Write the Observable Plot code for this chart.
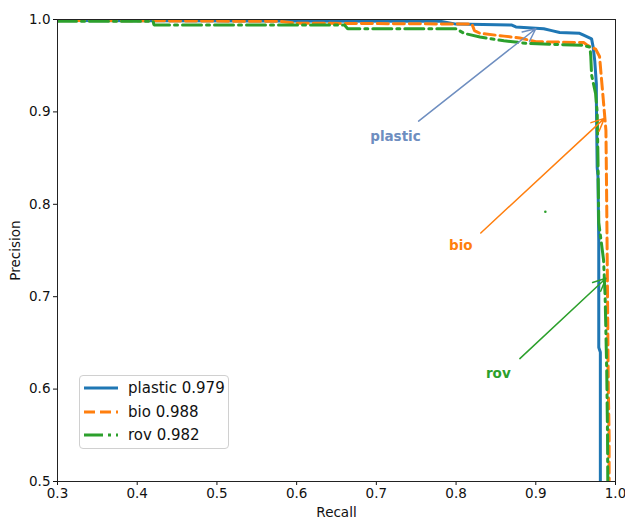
<!DOCTYPE html>
<html><head><meta charset="utf-8">
<script src="https://cdn.jsdelivr.net/npm/d3@7"></script>
<script src="https://cdn.jsdelivr.net/npm/@observablehq/plot@0.6"></script>
<style>
body{margin:0;background:#fff;font-family:"DejaVu Sans",sans-serif}
#wrap{position:relative;width:625px;height:520px}
#legend{position:absolute;left:79px;top:375px;width:148px;height:72px;border:1px solid #d0d0d0;border-radius:4px;background:rgba(255,255,255,0.85)}
.row{position:absolute;left:4px;height:20px;display:flex;align-items:center;font-size:15px;color:#111;white-space:nowrap}
.row svg{margin-right:10px}
</style></head><body><div id="wrap"></div><script>
// ---- data ----
const seriesNames = ["plastic", "bio", "rov"];
const seriesAP = ["0.979", "0.988", "0.982"];
const seriesColors = ["#1f77b4", "#ff7f0e", "#2ca02c"];
const seriesDash = [null, "11,5", "19,5,3,5"];

const plasticRecall    = [0.30, 0.78, 0.80, 0.87, 0.875, 0.91, 0.92, 0.93, 0.955, 0.96, 0.97, 0.972, 0.974, 0.976, 0.976, 0.977, 0.978, 0.979, 0.979, 0.981, 0.981];
const plasticPrecision = [0.999, 0.998, 0.995, 0.994, 0.992, 0.990, 0.988, 0.986, 0.985, 0.983, 0.979, 0.970, 0.955, 0.930, 0.912, 0.840, 0.830, 0.760, 0.645, 0.640, 0.40];

const bioRecall    = [0.30, 0.58, 0.60, 0.82, 0.823, 0.83, 0.86, 0.88, 0.90, 0.96, 0.965, 0.975, 0.980, 0.982, 0.984, 0.986, 0.988, 0.989, 0.990, 0.991, 0.992, 0.992];
const bioPrecision = [0.999, 0.998, 0.996, 0.995, 0.988, 0.985, 0.982, 0.980, 0.976, 0.975, 0.972, 0.968, 0.960, 0.940, 0.920, 0.900, 0.880, 0.800, 0.700, 0.600, 0.550, 0.40];

const rovRecall    = [0.30, 0.42, 0.421, 0.66, 0.664, 0.80, 0.81, 0.83, 0.86, 0.89, 0.96, 0.968, 0.969, 0.970, 0.975, 0.977, 0.978, 0.979, 0.982, 0.985, 0.987, 0.989, 0.990, 0.991];
const rovPrecision = [0.998, 0.998, 0.994, 0.994, 0.990, 0.990, 0.985, 0.981, 0.977, 0.974, 0.972, 0.970, 0.960, 0.940, 0.920, 0.900, 0.850, 0.780, 0.760, 0.740, 0.700, 0.620, 0.550, 0.40];

const annoLabels = ["plastic", "bio", "rov"];
const annoColors = ["#6e8ec0", "#ff7f0e", "#2ca02c"];
const annoTextRecall = [0.724, 0.806, 0.853];
const annoTextPrecision = [0.873, 0.755, 0.617];
const annoTailRecall = [0.753, 0.831, 0.880];
const annoTailPrecision = [0.890, 0.769, 0.633];
const annoTipRecall = [0.900, 0.986, 0.988];
const annoTipPrecision = [0.990, 0.893, 0.720];

const strayDotRecall = [0.912];
const strayDotPrecision = [0.792];

const xTicks = [0.3, 0.4, 0.5, 0.6, 0.7, 0.8, 0.9, 1.0];
const yTicks = [0.5, 0.6, 0.7, 0.8, 0.9, 1.0];

// ---- build tables ----
const curves = [
  [plasticRecall, plasticPrecision],
  [bioRecall, bioPrecision],
  [rovRecall, rovPrecision]
];
const rows = curves.flatMap(([r, p], i) => r.map((v, j) => ({series: seriesNames[i], recall: v, precision: p[j]})));
const annos = annoLabels.map((l, i) => ({
  label: l, color: annoColors[i],
  tx: annoTextRecall[i], ty: annoTextPrecision[i],
  x1: annoTailRecall[i], y1: annoTailPrecision[i],
  x2: annoTipRecall[i], y2: annoTipPrecision[i]
}));
const stray = strayDotRecall.map((v, i) => ({x: v, y: strayDotPrecision[i]}));
const fmt = d => d.toFixed(1);

const chart = Plot.plot({
  width: 625, height: 520,
  marginLeft: 57, marginRight: 10, marginTop: 19, marginBottom: 39,
  style: {fontFamily: "DejaVu Sans, sans-serif", fontSize: "13.5px", color: "#111", background: "#fff"},
  x: {domain: [0.3, 1.0], ticks: xTicks, tickFormat: fmt, label: "Recall", labelAnchor: "center", labelArrow: "none"},
  y: {domain: [0.5, 1.0], ticks: yTicks, tickFormat: fmt, label: "Precision", labelAnchor: "center", labelArrow: "none"},
  marks: [
    Plot.axisX({ticks: xTicks, tickFormat: fmt, tickSize: 4, tickPadding: 3, label: "Recall", labelAnchor: "center", labelArrow: "none", labelOffset: 35, fontSize: 13.5}),
    Plot.axisY({ticks: yTicks, tickFormat: fmt, tickSize: 4, tickPadding: 3, label: "Precision", labelAnchor: "center", labelArrow: "none", labelOffset: 47, fontSize: 13.5}),
    ...seriesNames.map((s, i) => Plot.line(rows.filter(d => d.series === s), {
      x: "recall", y: "precision", stroke: seriesColors[i], strokeWidth: 3,
      strokeDasharray: seriesDash[i], clip: true, strokeLinejoin: "miter"
    })),
    Plot.dot(stray, {x: "x", y: "y", r: 1.3, fill: "#2ca02c", stroke: "none"}),
    Plot.arrow(annos, {x1: "x1", y1: "y1", x2: "x2", y2: "y2", stroke: "color", strokeWidth: 1.5, bend: 0, headLength: 14, headAngle: 50}),
    Plot.text(annos, {x: "tx", y: "ty", text: "label", fill: "color", fontWeight: "bold", fontSize: 13.5}),
    Plot.frame({stroke: "#222", strokeWidth: 1})
  ]
});
const wrap = document.getElementById("wrap");
wrap.appendChild(chart);

// legend inside the plot area (HTML overlay)
const legend = document.createElement("div");
legend.id = "legend";
seriesNames.forEach((s, i) => {
  const row = document.createElement("div");
  row.className = "row";
  row.style.top = (2 + i * 23.5) + "px";
  const dash = seriesDash[i] ? `stroke-dasharray="${seriesDash[i]}"` : "";
  row.innerHTML = `<svg width="34" height="10"><line x1="0" y1="5" x2="34" y2="5" stroke="${seriesColors[i]}" stroke-width="3" ${dash}/></svg><span>${s} ${seriesAP[i]}</span>`;
  legend.appendChild(row);
});
wrap.appendChild(legend);
</script></body></html>
